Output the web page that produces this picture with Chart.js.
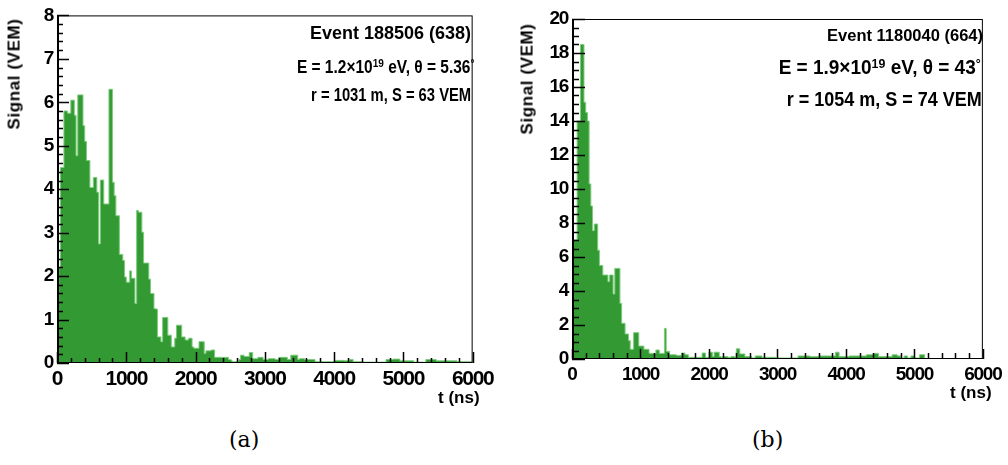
<!DOCTYPE html>
<html>
<head>
<meta charset="utf-8">
<script src="https://cdn.jsdelivr.net/npm/chart.js@4.4.1/dist/chart.umd.min.js"></script>
<style>
  html, body { margin: 0; padding: 0; background: #fff; }
  #wrap { position: relative; width: 1008px; height: 465px; overflow: hidden; }
  .panel { position: absolute; top: 0; height: 420px; }
  .txt { position: absolute; white-space: nowrap; color: #000; font-family: 'Liberation Sans', Arial, sans-serif; font-weight: bold; line-height: 1; transform-origin: right center; }
  .r { text-align: right; }
  .ytitle { position: absolute; white-space: nowrap; font-family: 'Liberation Sans', Arial, sans-serif; font-weight: bold; font-size: 17px; letter-spacing: 0.6px; transform: rotate(-90deg); transform-origin: center center; }
  .cap { position: absolute; font-family: 'DejaVu Serif', 'Liberation Serif', serif; font-size: 22px; }
  sup { font-size: 65%; vertical-align: 0; position: relative; top: -0.5em; }
</style>
</head>
<body>
<div id="wrap">
  <div class="panel" style="left:0;width:500px"><canvas id="chart-a"></canvas></div>
  <div class="panel" style="left:510px;width:498px"><canvas id="chart-b"></canvas></div>

  <div class="ytitle" style="left:-41px;top:64px">Signal (VEM)</div>
  <div class="ytitle" style="left:472px;top:69px">Signal (VEM)</div>

  <div class="txt r" style="right:537px;top:24px;font-size:18px">Event 188506 (638)</div>
  <div class="txt r" style="right:534px;top:58px;font-size:18px;transform:scaleX(0.86)">E = 1.2&times;10<sup>19</sup> eV, &theta; = 5.36<sup>&deg;</sup></div>
  <div class="txt r" style="right:537px;top:86px;font-size:18px;transform:scaleX(0.82)">r = 1031 m, S = 63 VEM</div>
  <div class="txt" style="left:438px;top:389px;font-size:17px">t (ns)</div>

  <div class="txt r" style="right:25px;top:27px;font-size:16.5px">Event 1180040 (664)</div>
  <div class="txt r" style="right:27px;top:57px;font-size:20px;transform:scaleX(0.95)">E = 1.9&times;10<sup>19</sup> eV, &theta; = 43<sup>&deg;</sup></div>
  <div class="txt r" style="right:26px;top:89px;font-size:20px;transform:scaleX(0.9)">r = 1054 m, S = 74 VEM</div>
  <div class="txt" style="left:950px;top:384px;font-size:17px">t (ns)</div>

  <div class="cap" style="left:229px;top:427px">(a)</div>
  <div class="cap" style="left:752px;top:427px">(b)</div>
</div>

<script>
// 25 ns FADC bins, 0 - 6000 ns
const BIN_NS = 25;
const X_TICKS = [0, 1000, 2000, 3000, 4000, 5000, 6000];
const Y_TICKS_A = [0, 1, 2, 3, 4, 5, 6, 7, 8];
const Y_TICKS_B = [0, 2, 4, 6, 8, 10, 12, 14, 16, 18, 20];

// (a) Event 188506, signal in VEM per bin
const signalA = [
  1.4, 2.2, 4.5, 4.5, 5.8, 5.8, 5.75, 5.75, 6.05, 6.05, 5.7, 4.77, 6.17, 6.17, 6.17, 5.46, 5.1, 4.66, 4.66, 4.04,
  4.04, 4.27, 4.27, 3.93, 2.74, 4.21, 4.21, 3.66, 3.66, 3.66, 6.3, 6.3, 4.16, 3.85, 3.39, 3.39, 2.5, 2.5, 2.36, 1.98,
  1.86, 1.86, 2.12, 1.95, 1.95, 1.37, 3.51, 3.47, 3.47, 3.01, 2.3, 2.3, 2.3, 1.93, 1.6, 1.6, 1.25, 1.24, 0.6, 0.6,
  0.49, 1.05, 1.05, 1.05, 0.64, 0.64, 0.37, 0.37, 0.57, 0.87, 0.87, 0.87, 0.6, 0.6, 0.53, 0.53, 0.57, 0.57, 0.37, 0.34,
  0.34, 0.34, 0.49, 0.49, 0.49, 0.22, 0.28, 0.28, 0.28, 0.3, 0.3, 0.13, 0.13, 0.13, 0.13, 0.13, 0.13, 0.13, 0.13, 0.08,
  0.07, 0.03, 0.03, 0.03, 0.03, 0.08, 0.18, 0.18, 0.15, 0.15, 0.15, 0.24, 0.24, 0.1, 0.1, 0.1, 0.13, 0.13, 0.13, 0.08,
  0.08, 0.08, 0.1, 0.1, 0.1, 0.1, 0.08, 0.08, 0.13, 0.13, 0.13, 0.13, 0.13, 0.08, 0.08, 0.18, 0.18, 0.18, 0.18, 0.08,
  0.1, 0.1, 0.1, 0.08, 0.08, 0.08, 0.08, 0.08, 0.08, 0.03, 0.03, 0.03, 0.03, 0.03, 0.03, 0.03, 0.03, 0.03, 0.03, 0.03,
  0.06, 0.06, 0.06, 0.06, 0.06, 0.06, 0.05, 0.05, 0.05, 0.08, 0.08, 0.03, 0.03, 0.03, 0.03, 0.03, 0.02, 0.02, 0.02, 0.02,
  0.02, 0.02, 0.02, 0.02, 0.02, 0.02, 0.02, 0.02, 0.02, 0.02, 0.08, 0.08, 0.08, 0.08, 0.09, 0.09, 0.09, 0.09, 0.05, 0.05,
  0.05, 0.05, 0.05, 0.05, 0.05, 0.05, 0.02, 0.02, 0.02, 0.02, 0.02, 0.02, 0.02, 0.08, 0.08, 0.08, 0.08, 0.08, 0.08, 0.05,
  0.05, 0.05, 0.05, 0.05, 0.05, 0.05, 0.05, 0.05, 0.05, 0.05, 0.05, 0.03, 0.03, 0.03, 0.03, 0.03, 0.03, 0.03, 0.03, 0.03,
];

// (b) Event 1180040
const signalB = [
  7, 7, 7, 14, 14, 18.5, 18.5, 15.1, 14.5, 14, 10.3, 9.0, 7.55, 7.94, 7.94, 6.4, 5.5, 5.5, 4.94, 4.94,
  4.94, 4.55, 4.94, 4.94, 3.82, 5.33, 5.33, 5.33, 3.27, 2.1, 2.1, 1.47, 1.47, 1.08, 0.57, 0.57, 1.55, 1.55, 1.55, 0.76,
  0.76, 0.76, 0.57, 0.57, 0.57, 0.33, 0.33, 0.33, 0.33, 0.53, 0.53, 0.33, 0.33, 0.33, 1.8, 0.45, 0.45, 0.25, 0.25, 0.25,
  0.25, 0.2, 0.2, 0.2, 0.35, 0.35, 0.25, 0.25, 0.1, 0.1, 0.1, 0.1, 0.1, 0.1, 0.1, 0.1, 0.35, 0.35, 0.1, 0.1,
  0.4, 0.4, 0.15, 0.4, 0.4, 0.4, 0.15, 0.1, 0.15, 0.15, 0.15, 0.1, 0.1, 0.15, 0.15, 0.1, 0.6, 0.6, 0.3, 0.3,
  0.3, 0.14, 0.14, 0.14, 0.14, 0.06, 0.06, 0.18, 0.18, 0.18, 0.18, 0.1, 0.1, 0.1, 0.1, 0.1, 0.1, 0.1, 0.1, 0.06,
  0.06, 0.06, 0.06, 0.06, 0.06, 0.06, 0.06, 0.06, 0.06, 0.06, 0.06, 0.06, 0.18, 0.18, 0.18, 0.18, 0.18, 0.18, 0.18, 0.14,
  0.14, 0.14, 0.14, 0.14, 0.18, 0.18, 0.18, 0.18, 0.18, 0.18, 0.18, 0.18, 0.18, 0.18, 0.4, 0.4, 0.14, 0.14, 0.14, 0.14,
  0.14, 0.14, 0.18, 0.18, 0.18, 0.18, 0.18, 0.18, 0.18, 0.18, 0.18, 0.18, 0.25, 0.25, 0.25, 0.25, 0.33, 0.33, 0.33, 0.14,
  0.14, 0.14, 0.14, 0.14, 0.14, 0.14, 0.14, 0.25, 0.25, 0.25, 0.18, 0.18, 0.06, 0.06, 0.18, 0.18, 0.06, 0.06, 0.18, 0.18,
  0.06, 0.06, 0.06, 0.25, 0.25, 0.25, 0.02, 0.02, 0.02, 0.02, 0.02, 0.02, 0.02, 0.02, 0.02, 0.02, 0.02, 0.02, 0.02, 0.02,
  0.02, 0.02, 0.02, 0.02, 0.02, 0.02, 0.02, 0.02, 0.02, 0.02, 0.02, 0.02, 0.02, 0.02, 0.02, 0.02, 0.02, 0.02, 0.02, 0.02,
];

const FILL = '#339933';
const EDGE = '#7ccc7c';
const TICK_FONT = "'Liberation Sans', Arial, sans-serif";

// histogram edges -> stepped points (value held until next edge)
function toSteps(values) {
  const pts = values.map((v, i) => ({ x: i * BIN_NS, y: v }));
  pts.push({ x: values.length * BIN_NS, y: values[values.length - 1] });
  return pts;
}

// ROOT style frame: box + inward major/minor ticks drawn over the histogram
const rootFrame = {
  id: 'rootFrame',
  beforeDraw(chart, args, o) {
    // ROOT labels are condensed, tighten the tick text a little
    chart.ctx.letterSpacing = o.letterSpacing || '0px';
  },
  afterDatasetsDraw(chart, args, o) {
    const { ctx, chartArea: a, scales: { x, y } } = chart;
    ctx.save();
    ctx.strokeStyle = '#000';
    ctx.lineWidth = 1;
    ctx.strokeRect(a.left + 0.5, a.top + 0.5, a.width - 1, a.height - 1);
    ctx.lineWidth = 2;
    ctx.beginPath();
    ctx.moveTo(a.left + 1, a.top);
    ctx.lineTo(a.left + 1, a.bottom);
    ctx.stroke();

    ctx.lineWidth = 1.5;
    ctx.beginPath();
    const nY = Math.round((y.max - y.min) / o.yMinor);
    for (let i = 0; i <= nY; i++) {
      const v = y.min + i * o.yMinor;
      const py = Math.round(y.getPixelForValue(v)) + 0.5;
      const major = i % o.yDiv === 0;
      ctx.moveTo(a.left, py);
      ctx.lineTo(a.left + (major ? o.yMajorLen : o.yMinorLen), py);
    }
    const nX = Math.round((x.max - x.min) / o.xMinor);
    for (let i = 0; i <= nX; i++) {
      const v = x.min + i * o.xMinor;
      const px = Math.round(x.getPixelForValue(v)) + 0.5;
      const major = i % o.xDiv === 0;
      ctx.moveTo(px, a.bottom);
      ctx.lineTo(px, a.bottom - (major ? o.xMajorLen : o.xMinorLen));
    }
    ctx.stroke();
    ctx.restore();
  }
};

function makeChart(id, values, yTicks, cfg) {
  const yMax = yTicks[yTicks.length - 1];
  return new Chart(document.getElementById(id), {
    type: 'line',
    data: {
      datasets: [{
        data: toSteps(values),
        stepped: 'before',
        borderColor: EDGE,
        borderWidth: 1,
        backgroundColor: FILL,
        fill: 'origin',
        pointRadius: 0,
        tension: 0,
      }]
    },
    options: {
      responsive: true,
      maintainAspectRatio: false,
      animation: false,
      events: [],
      layout: { padding: { left: 0, top: cfg.top, right: cfg.right, bottom: 0 } },
      plugins: {
        legend: { display: false },
        tooltip: { enabled: false },
        rootFrame: cfg.frame,
      },
      scales: {
        x: {
          type: 'linear',
          min: X_TICKS[0],
          max: X_TICKS[X_TICKS.length - 1],
          afterBuildTicks: s => { s.ticks = X_TICKS.map(v => ({ value: v })); },
          afterFit: s => { s.height = cfg.xHeight; },
          grid: { display: false, drawTicks: false },
          border: { display: false },
          ticks: {
            color: '#000', padding: cfg.xPad, maxRotation: 0, autoSkip: false,
            callback: v => String(v),
            font: { family: TICK_FONT, weight: 'bold', size: cfg.xFont },
          },
        },
        y: {
          min: 0,
          max: yMax,
          afterBuildTicks: s => { s.ticks = yTicks.map(v => ({ value: v })); },
          afterFit: s => { s.width = cfg.yWidth; },
          grid: { display: false, drawTicks: false },
          border: { display: false },
          ticks: {
            color: '#000', padding: 4, autoSkip: false,
            callback: v => String(v),
            font: { family: TICK_FONT, weight: 'bold', size: cfg.yFont },
          },
        },
      },
    },
    plugins: [rootFrame],
  });
}

makeChart('chart-a', signalA, Y_TICKS_A, {
  top: 14, right: 23, xHeight: 57, yWidth: 57, xPad: 4, xFont: 21, yFont: 19,
  frame: { letterSpacing: '-1.3px', yMinor: 0.2, yDiv: 5, yMajorLen: 12, yMinorLen: 6, xMinor: 200, xDiv: 5, xMajorLen: 11, xMinorLen: 5 },
});

makeChart('chart-b', signalB, Y_TICKS_B, {
  top: 19, right: 22, xHeight: 61, yWidth: 62, xPad: 4, xFont: 19, yFont: 19,
  frame: { letterSpacing: '-1.3px', yMinor: 0.5, yDiv: 4, yMajorLen: 13, yMinorLen: 7, xMinor: 200, xDiv: 5, xMajorLen: 10, xMinorLen: 6 },
});
</script>
</body>
</html>
